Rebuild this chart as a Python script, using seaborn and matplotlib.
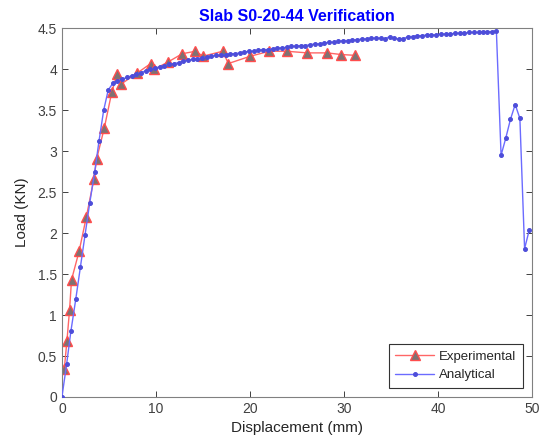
import matplotlib
matplotlib.use("Agg")
import matplotlib.pyplot as plt
import seaborn as sns
import pandas as pd

exp_x = [0.25, 0.53, 0.81, 1.02, 1.83, 2.6, 3.4, 3.7, 4.5, 5.3, 5.85, 6.3, 7.96, 9.44, 9.83,
         11.3, 12.8, 14.2, 15.0, 17.1, 17.7, 20.05, 22.06, 23.9, 26.1, 28.2, 29.7, 31.2]
exp_y = [0.34, 0.68, 1.06, 1.43, 1.78, 2.2, 2.66, 2.91, 3.28, 3.72, 3.94, 3.82, 3.95, 4.07, 4.0,
         4.09, 4.19, 4.22, 4.16, 4.22, 4.07, 4.16, 4.22, 4.22, 4.2, 4.2, 4.18, 4.17]

ana_x = [0, 0.5, 0.95, 1.48, 1.97, 2.46, 2.96, 3.49, 3.95, 4.44, 4.93, 5.43,
         5.9, 6.4, 6.9, 7.4, 7.9, 8.4, 8.9, 9.4, 9.9, 10.4, 10.9, 11.4, 11.9, 12.4, 12.9,
         13.4, 13.9, 14.4, 14.9, 15.4, 15.9, 16.4, 16.9, 17.4, 17.9, 18.4, 18.9, 19.4, 19.9,
         20.4, 20.9, 21.4, 21.9, 22.4, 22.9, 23.4, 23.9, 24.4, 24.9, 25.4, 25.9, 26.4, 26.9,
         27.4, 27.9, 28.4, 28.9, 29.4, 29.9, 30.4, 30.9, 31.4, 31.9, 32.4, 32.9, 33.4, 33.9,
         34.35, 34.85, 35.3, 35.8, 36.3, 36.8, 37.3, 37.8, 38.3, 38.8, 39.3, 39.8, 40.3, 40.8,
         41.3, 41.8, 42.3, 42.8, 43.3, 43.8, 44.3, 44.8, 45.2, 45.7, 46.2,
         46.7, 47.2, 47.7, 48.2, 48.7, 49.2, 49.7]
ana_y = [0, 0.4, 0.8, 1.2, 1.59, 1.98, 2.37, 2.75, 3.13, 3.5, 3.75, 3.83,
         3.86, 3.88, 3.90, 3.92, 3.94, 3.96, 3.98, 4.00, 4.01, 4.03, 4.04, 4.06, 4.07, 4.08, 4.10,
         4.11, 4.12, 4.13, 4.14, 4.15, 4.16, 4.17, 4.17, 4.18, 4.19, 4.19, 4.20, 4.21, 4.22,
         4.22, 4.23, 4.24, 4.24, 4.25, 4.26, 4.26, 4.27, 4.28, 4.28, 4.29, 4.29, 4.30, 4.31,
         4.31, 4.32, 4.33, 4.33, 4.34, 4.35, 4.35, 4.36, 4.36, 4.37, 4.37, 4.38, 4.38, 4.38,
         4.37, 4.40, 4.38, 4.37, 4.37, 4.40, 4.40, 4.41, 4.41, 4.42, 4.42, 4.42, 4.43, 4.43,
         4.43, 4.44, 4.44, 4.44, 4.45, 4.45, 4.45, 4.46, 4.46, 4.46, 4.47,
         2.95, 3.16, 3.39, 3.57, 3.40, 1.81, 2.04]

x_ticks = [0, 10, 20, 30, 40, 50]
y_ticks = [0, 0.5, 1, 1.5, 2, 2.5, 3, 3.5, 4, 4.5]

sns.set_style("white")
plt.rcParams['font.family'] = ['Liberation Sans', 'DejaVu Sans']

fig = plt.figure(figsize=(5.48, 4.41), dpi=100)
ax = fig.add_axes([0.113, 0.0998, 0.858, 0.836])

df_exp = pd.DataFrame({"x": exp_x, "y": exp_y})
df_ana = pd.DataFrame({"x": ana_x, "y": ana_y})

red = (1.0, 0.4, 0.4)
blue = (0.42, 0.42, 1.0)
sns.lineplot(data=df_exp, x="x", y="y", sort=False, estimator=None, ax=ax,
             color=red, linewidth=1.0, marker="^", markersize=6.5,
             markerfacecolor="#7f7272", markeredgecolor=(1.0, 0.3, 0.3),
             markeredgewidth=1.0, label="Experimental", zorder=2)
sns.lineplot(data=df_ana, x="x", y="y", sort=False, estimator=None, ax=ax,
             color=blue, linewidth=1.0, marker="o", markersize=2.8,
             markerfacecolor=(0.3, 0.3, 0.85), markeredgecolor=(0.3, 0.3, 0.85),
             label="Analytical", zorder=3)

ax.set_xlim(0, 50)
ax.set_ylim(0, 4.5)
ax.set_xticks(x_ticks)
ax.set_xticklabels([str(t) for t in x_ticks])
ax.set_yticks(y_ticks)
ax.set_yticklabels([("%g" % t) for t in y_ticks])
ax.tick_params(direction="in", length=4, width=0.7, colors="#404040", labelsize=10,
               top=True, right=True, bottom=True, left=True)
for s in ax.spines.values():
    s.set_color("#808080")
    s.set_linewidth(0.8)
ax.set_xlabel("Displacement (mm)", fontsize=11, color="#262626", labelpad=4)
ax.set_ylabel("Load (KN)", fontsize=11, color="#262626", labelpad=6)
ax.set_title("Slab S0-20-44 Verification", fontsize=11.5, fontweight="bold", color="#0000ff", pad=5)

leg = ax.legend(loc="lower right", fontsize=9.5, frameon=True, fancybox=False,
                edgecolor="#333333", framealpha=1, borderaxespad=0.7, handlelength=2.9,
                handletextpad=0.4, borderpad=0.5, labelspacing=0.45)
leg.get_frame().set_linewidth(0.8)

fig.savefig("out.png", dpi=100)
